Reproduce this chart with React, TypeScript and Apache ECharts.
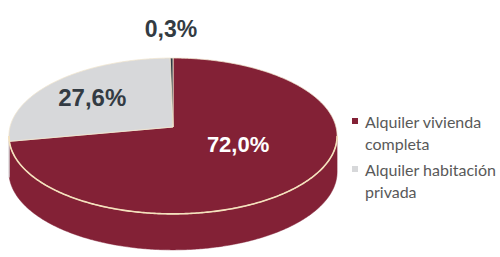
import React, { useEffect, useRef } from 'react';
import * as echarts from 'echarts';

const categories = ['Alquiler vivienda completa', 'Alquiler habitación privada', 'Otros'];
const values = [72.0, 27.6, 0.3];
const valueLabels = ['72,0%', '27,6%', '0,3%'];
const legendLines = [
  ['Alquiler vivienda', 'completa'],
  ['Alquiler habitación', 'privada'],
];
const colors = ['#832136', '#d7d8da', '#2f3a45'];

// geometry (layout)
const CX = 173;
const CY = 127;
const W = 163;
const B = 76.9;
const A = 0.115;
const H = 36;
const labelT = [0.5, 0.67, 1.5];
const labelDy = [-8, 2, 0];
const labelColor = ['#ffffff', '#333b43', '#333b43'];
const labelSize = [22, 24, 23];

function proj(theta: number, t: number, dy = 0): number[] {
  const s = Math.sin(theta);
  const c = Math.cos(theta);
  const den = 1 + A * t * c;
  return [CX + (W * t * s) / den, CY - (B * t * c) / den + dy];
}

function arc(a0: number, a1: number, t: number, dy = 0): number[][] {
  const n = Math.max(2, Math.ceil(Math.abs(a1 - a0) / 0.01));
  const pts: number[][] = [];
  for (let k = 0; k <= n; k++) pts.push(proj(a0 + ((a1 - a0) * k) / n, t, dy));
  return pts;
}

export default function App() {
  const ref = useRef<HTMLDivElement>(null);
  useEffect(() => {
    if (!ref.current) return;
    const chart = echarts.init(ref.current, undefined, { renderer: 'svg' });
    const total = values.reduce((s, v) => s + v, 0);
    const TH0 = Math.acos(-A);
    const TH1 = 2 * Math.PI - TH0;

    const renderItem = (params: any, api: any) => {
      const i = params.dataIndex;
      const v = api.value(0);
      let start = 0;
      for (let j = 0; j < i; j++) start += values[j];
      const a0 = (start / total) * Math.PI * 2;
      const a1 = ((start + v) / total) * Math.PI * 2;
      const children: any[] = [];
      // side
      const s0 = Math.max(a0, TH0);
      const s1 = Math.min(a1, TH1);
      if (s1 > s0) {
        const top = arc(s0, s1, 1);
        const bot = arc(s1, s0, 1, H);
        children.push({
          type: 'polygon',
          shape: { points: top.concat(bot) },
          style: { fill: colors[i], stroke: colors[i], lineWidth: 0.5 },
          z2: 1,
        });
      }
      // top face
      const pts = [[CX, CY]].concat(arc(a0, a1, 1));
      children.push({
        type: 'polygon',
        shape: { points: pts },
        style: { fill: colors[i], stroke: '#f1e6cf', lineWidth: 0.8 },
        z2: 10,
      });
      if (s1 > s0) {
        children.push({
          type: 'polyline',
          shape: { points: arc(s0, s1, 1) },
          style: { fill: 'none', stroke: '#f5e2bd', lineWidth: 1.6 },
          z2: 12,
        });
      }
      const mid = (a0 + a1) / 2;
      const lp = proj(mid, labelT[i], labelDy[i]);
      children.push({
        type: 'text',
        style: {
          text: valueLabels[i],
          x: lp[0],
          y: lp[1],
          fill: labelColor[i],
          fontSize: labelSize[i],
          fontWeight: 'bold',
          fontFamily: '"Liberation Sans", Arial, sans-serif',
          align: 'center',
          verticalAlign: 'middle',
        },
        z2: 20,
      });
      return { type: 'group', children };
    };

    const legendGraphics: any[] = [];
    legendLines.forEach((lines, i) => {
      const y0 = 110 + i * 48;
      legendGraphics.push({
        type: 'rect',
        shape: { x: 352, y: y0 + 8, width: 6, height: 6 },
        style: { fill: colors[i] },
      });
      legendGraphics.push({
        type: 'text',
        style: {
          text: lines.join('\n'),
          x: 365,
          y: y0,
          fill: '#595959',
          fontSize: 16,
          lineHeight: 22,
          fontFamily: 'Lato, "Open Sans", sans-serif',
          align: 'left',
          verticalAlign: 'top',
        },
      });
    });

    chart.setOption({
      animation: false,
      backgroundColor: '#ffffff',
      series: [
        {
          type: 'custom',
          name: 'Alquiler',
          coordinateSystem: 'none',
          data: values.map((v, i) => ({ name: categories[i], value: [v, i] })),
          renderItem,
        },
      ],
      graphic: legendGraphics,
    });
    return () => chart.dispose();
  }, []);
  return (
    <div
      ref={ref}
      style={{ position: 'fixed', left: 0, top: 0, width: 500, height: 257, background: '#fff' }}
    />
  );
}
